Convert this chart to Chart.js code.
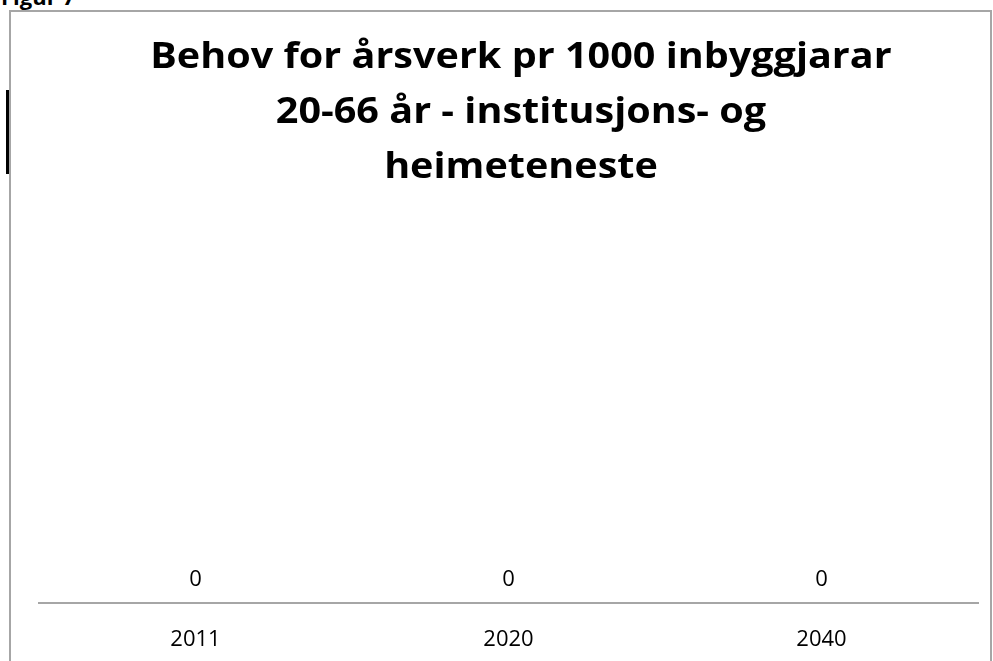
<!DOCTYPE html>
<html>
<head>
<meta charset="utf-8">
<script src="https://cdn.jsdelivr.net/npm/chart.js@4"></script>
<style>
  body { margin: 0; background: #fff; width: 993px; height: 661px; overflow: hidden; position: relative; }
  #figlabel { position: absolute; left: 1px; top: -15px; font: bold 22px/22px "Open Sans", sans-serif; color: #000; }
  #frame { position: absolute; left: 9px; top: 10px; width: 979px; height: 660px; border: 2px solid #a6a6a6; border-bottom: none; }
  #mark { position: absolute; left: 6px; top: 90px; width: 3px; height: 84px; background: #000; }
  #title { position: absolute; left: 121px; top: 27px; width: 800px; text-align: center; font: bold 35px/55px "Open Sans", sans-serif; color: #000; transform: scaleX(1.13); }
  #chart { position: absolute; left: 0; top: 0; }
</style>
</head>
<body>
<div id="figlabel">Figur 7</div>
<div id="frame"></div>
<div id="mark"></div>
<canvas id="chart" width="993" height="661"></canvas>
<div id="title"></div>
<script>
// kategoriar og verdiar
const years = ['2011', '2020', '2040'];
const values = [0, 0, 0];
const titleLines = ['Behov for årsverk pr 1000 inbyggjarar', '20-66 år - institusjons- og', 'heimeteneste'];

// tittel som tekst over figuren
document.getElementById('title').innerHTML = titleLines.join('<br>');

// teikn verdiane over søylene
const valueLabels = {
  id: 'valueLabels',
  afterDatasetsDraw(chart) {
    const ctx = chart.ctx;
    const meta = chart.getDatasetMeta(0);
    ctx.save();
    ctx.font = '22px "Open Sans", sans-serif';
    ctx.fillStyle = '#000';
    ctx.textAlign = 'center';
    ctx.textBaseline = 'middle';
    meta.data.forEach((bar, i) => {
      ctx.fillText(String(values[i]), bar.x, bar.y - 23);
    });
    ctx.restore();
  }
};

const chart = new Chart(document.getElementById('chart').getContext('2d'), {
  type: 'bar',
  data: {
    labels: years,
    datasets: [{
      data: values,
      backgroundColor: '#4f81bd'
    }]
  },
  options: {
    responsive: false,
    animation: false,
    layout: { padding: { left: 39, right: 15, top: 200, bottom: -16 } },
    scales: {
      x: {
        grid: { display: false, drawTicks: false },
        border: { display: true, color: '#a6a6a6', width: 2 },
        ticks: { color: '#000', font: { family: 'Open Sans', size: 22 }, padding: 24 }
      },
      y: {
        display: false,
        min: 0,
        max: 1
      }
    },
    plugins: {
      legend: { display: false },
      tooltip: { enabled: false },
      title: { display: false }
    }
  },
  plugins: [valueLabels]
});
</script>
</body>
</html>
